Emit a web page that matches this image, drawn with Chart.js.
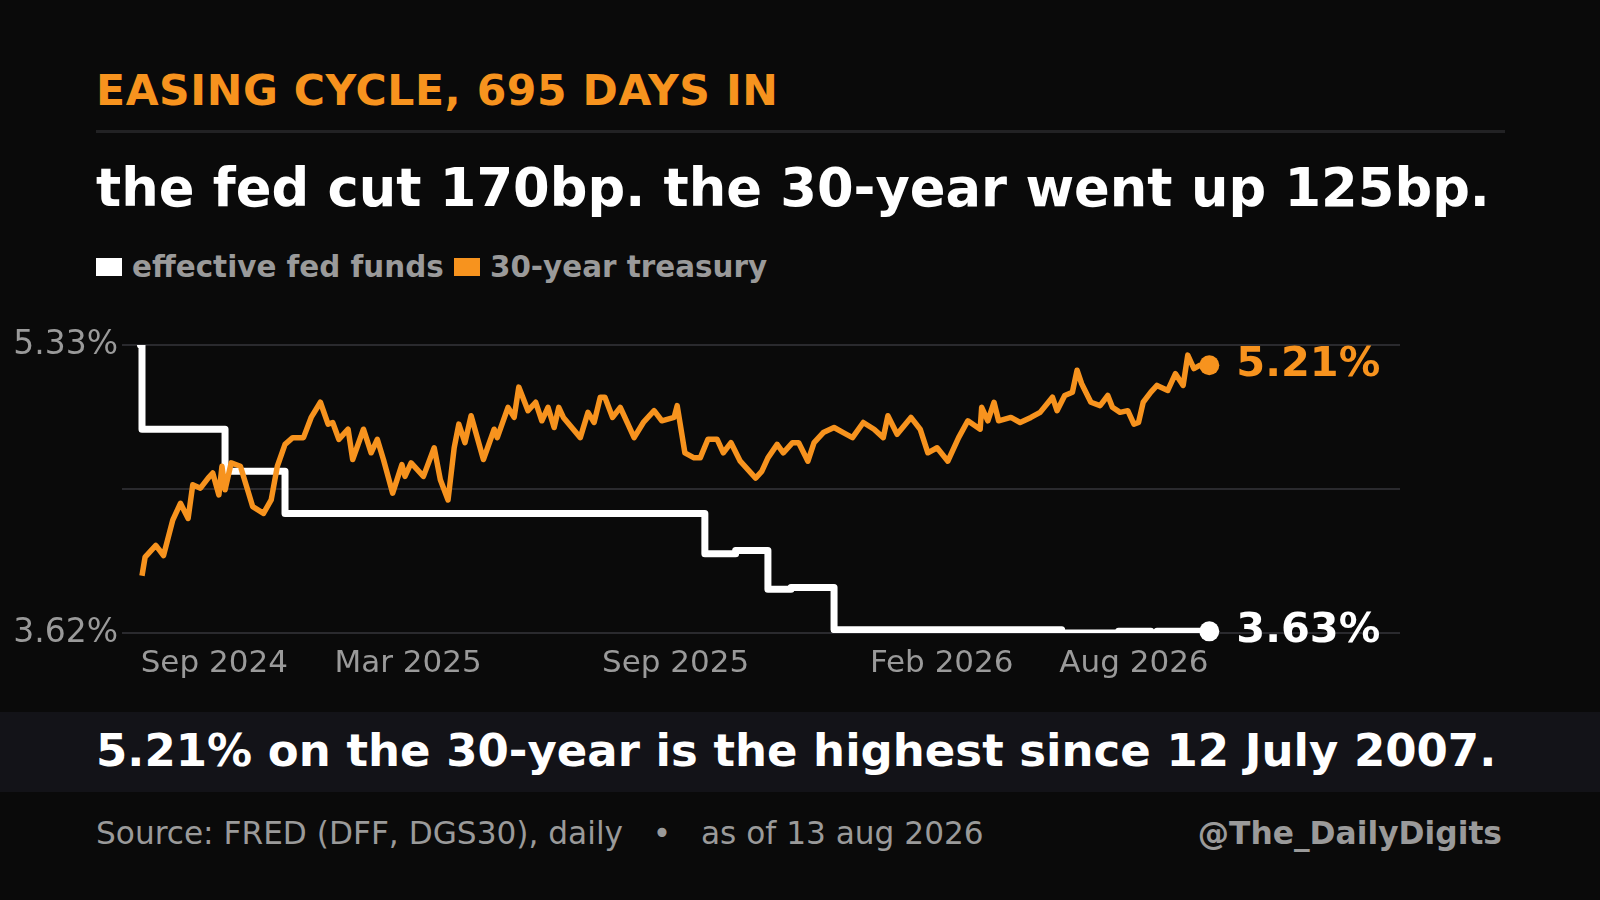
<!DOCTYPE html>
<html>
<head>
<meta charset="utf-8">
<script src="https://cdn.jsdelivr.net/npm/chart.js@4.4.1/dist/chart.umd.min.js"></script>
<style>
  html, body { margin: 0; padding: 0; background: #0a0a0a; width: 1600px; height: 900px; overflow: hidden; font-family: "DejaVu Sans", sans-serif; }
  .abs { position: absolute; white-space: nowrap; }
  #kicker { left: 96px; top: 66px; color: #f7931e; font-size: 42.5px; font-weight: bold; letter-spacing: 0.6px; }
  #rule { left: 96px; top: 130px; width: 1409px; height: 3px; background: #222224; }
  #title { left: 96px; top: 157px; color: #fff; font-size: 52.7px; font-weight: bold; }
  #legend { left: 96px; top: 250px; color: #9a9a9a; font-size: 29.4px; font-weight: bold; }
  #legend span.sw { display: inline-block; width: 26px; height: 18px; margin-right: 10px; vertical-align: 1px; }
  #band { left: 0; top: 712px; width: 1600px; height: 80px; background: #131318; }
  #bandtext { left: 96px; top: 724px; color: #fff; font-size: 45px; font-weight: bold; }
  #foot { left: 96px; top: 815px; color: #9a9a9a; font-size: 31.2px; }
  #handle { right: 98px; top: 815px; color: #9a9a9a; font-size: 31.3px; font-weight: bold; }
  #wrap { position: absolute; left: 0; top: 320px; width: 1600px; height: 370px; }
</style>
</head>
<body>
<div class="abs" id="kicker">EASING CYCLE, 695 DAYS IN</div>
<div class="abs" id="rule"></div>
<div class="abs" id="title">the fed cut 170bp. the 30-year went up 125bp.</div>
<div class="abs" id="legend"><span class="sw" style="background:#fff"></span>effective fed funds <span class="sw" style="background:#f7931e"></span>30-year treasury</div>
<div class="abs" id="band"></div>
<div class="abs" id="bandtext">5.21% on the 30-year is the highest since 12 July 2007.</div>
<div class="abs" id="foot">Source: FRED (DFF, DGS30), daily &nbsp;&nbsp;•&nbsp;&nbsp; as of 13 aug 2026</div>
<div class="abs" id="handle">@The_DailyDigits</div>
<div id="wrap"><canvas id="grafico"></canvas></div>
<script>
// dias desde o início do ciclo (18 set 2024)
const diasTesouro = [1,3,10,15,21,26,31,34,39,44,47,51,53,55,59,65,70,73,80,85,89,94,99,106,111,117,122,125,129,135,138,145,150,154,158,164,170,172,176,184,191,195,200,204,207,211,215,223,230,232,239,243,246,252,257,261,265,269,272,275,286,291,295,299,302,307,312,317,321,327,334,339,347,349,354,360,364,369,375,379,384,390,395,400,404,408,414,418,424,428,434,438,444,451,457,463,470,477,483,486,492,501,507,512,518,525,532,538,546,547,551,555,558,566,572,579,585,593,596,601,606,609,612,618,624,629,632,637,642,646,649,652,657,661,668,673,678,681,685,689,695];
const tesouro30 = [3.96,4.07,4.14,4.08,4.29,4.39,4.30,4.50,4.48,4.54,4.57,4.44,4.61,4.47,4.63,4.61,4.46,4.37,4.33,4.41,4.61,4.74,4.78,4.78,4.90,4.99,4.86,4.87,4.77,4.83,4.65,4.83,4.69,4.77,4.65,4.45,4.62,4.55,4.63,4.55,4.72,4.53,4.41,4.72,4.86,4.75,4.91,4.65,4.83,4.78,4.96,4.90,5.08,4.94,4.99,4.88,4.96,4.84,4.96,4.90,4.78,4.93,4.87,5.02,5.02,4.90,4.96,4.86,4.78,4.87,4.94,4.88,4.90,4.97,4.69,4.66,4.66,4.77,4.77,4.69,4.75,4.64,4.59,4.54,4.58,4.66,4.74,4.69,4.75,4.75,4.64,4.75,4.81,4.84,4.81,4.78,4.87,4.83,4.78,4.91,4.80,4.90,4.83,4.69,4.72,4.64,4.78,4.88,4.83,4.96,4.88,4.99,4.88,4.90,4.87,4.90,4.93,5.02,4.94,5.03,5.05,5.18,5.10,4.99,4.97,5.03,4.96,4.93,4.94,4.86,4.87,4.99,5.05,5.09,5.06,5.16,5.09,5.27,5.19,5.21,5.21];

// fed funds: dias em que a taxa mudou
const diasFed = [0,1,55,94,367,387,408,423,451,599,636,657,661,695];
const fedFunds = [5.33,4.83,4.58,4.33,4.09,4.11,3.88,3.89,3.64,3.62,3.63,3.62,3.63,3.63];

const ticksX = [48,174,348,521,646];
const rotulosX = ["Sep 2024","Mar 2025","Sep 2025","Feb 2026","Aug 2026"];
const ticksY = [3.62,4.475,5.33];

const laranja = "#f7931e";

const pontos = (xs, ys) => xs.map((x, i) => ({ x: x, y: ys[i] }));

// rótulos do último valor
const rotuloFinal = {
  id: "rotuloFinal",
  afterDatasetsDraw(chart) {
    const ctx = chart.ctx;
    const sx = chart.scales.x, sy = chart.scales.y;
    const itens = [
      { v: tesouro30[tesouro30.length - 1], d: diasTesouro[diasTesouro.length - 1], cor: laranja },
      { v: fedFunds[fedFunds.length - 1], d: diasFed[diasFed.length - 1], cor: "#fff" }
    ];
    itens.forEach((it) => {
      const x = sx.getPixelForValue(it.d), y = sy.getPixelForValue(it.v);
      ctx.save();
      ctx.fillStyle = it.cor;
      ctx.beginPath();
      ctx.arc(x, y, 10, 0, Math.PI * 2);
      ctx.fill();
      ctx.font = "bold 41.5px 'DejaVu Sans'";
      ctx.textBaseline = "middle";
      ctx.fillText(it.v.toFixed(2) + "%", x + 27, y);
      ctx.restore();
    });
  }
};

new Chart(document.getElementById("grafico"), {
  type: "line",
  data: {
    datasets: [
      {
        label: "30-year treasury",
        data: pontos(diasTesouro, tesouro30),
        borderColor: laranja,
        borderWidth: 5.5,
        borderJoinStyle: "round",
        pointRadius: 0,
        tension: 0
      },
      {
        label: "effective fed funds",
        data: pontos(diasFed, fedFunds),
        borderColor: "#fff",
        borderWidth: 7,
        borderJoinStyle: "round",
        borderCapStyle: "round",
        pointRadius: 0,
        stepped: "before"
      }
    ]
  },
  options: {
    responsive: true,
    maintainAspectRatio: false,
    animation: false,
    layout: { padding: { top: 25, right: 200, left: 0, bottom: 0 } },
    plugins: { legend: { display: false }, tooltip: { enabled: false } },
    scales: {
      x: {
        type: "linear",
        min: -12,
        max: 819,
        afterFit: (s) => { s.height = 57; },
        afterBuildTicks: (s) => { s.ticks = ticksX.map((v) => ({ value: v })); },
        grid: { display: false },
        border: { display: false },
        ticks: {
          color: "#9a9a9a",
          font: { family: "DejaVu Sans", size: 31 },
          padding: 4,
          maxRotation: 0,
          autoSkip: false,
          callback: (v) => rotulosX[ticksX.indexOf(v)]
        }
      },
      y: {
        min: 3.62,
        max: 5.33,
        afterFit: (s) => { s.width = 122; },
        afterBuildTicks: (s) => { s.ticks = ticksY.map((v) => ({ value: v })); },
        grid: { color: "#2a2a2e", lineWidth: 2, drawTicks: false },
        border: { display: false },
        ticks: {
          color: "#9a9a9a",
          font: { family: "DejaVu Sans", size: 33 },
          padding: 4,
          callback: (v) => (v === 4.475 ? "" : v.toFixed(2) + "%")
        }
      }
    }
  },
  plugins: [rotuloFinal]
});
</script>
</body>
</html>
